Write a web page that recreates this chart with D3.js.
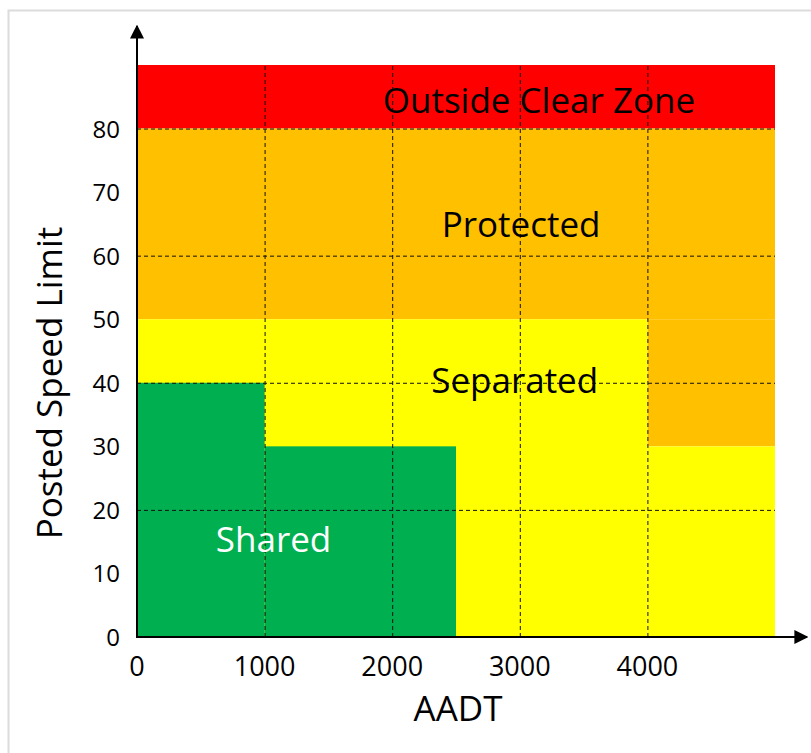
<!DOCTYPE html>
<html>
<head>
<meta charset="utf-8">
<script src="https://cdn.jsdelivr.net/npm/d3@7"></script>
<style>
  body { margin: 0; background: #fff; }
  text { font-family: "Open Sans", "Noto Sans", sans-serif; }
</style>
</head>
<body>
<div id="chart"></div>
<script>
// Zone blocks: AADT range and speed range for each coloured block
const zoneKeys = ["clear", "protected", "protected", "separated", "separated", "shared", "shared"];
const aadtFrom = [0, 0, 4000, 0, 4000, 0, 1000];
const aadtTo = [5000, 5000, 5000, 4000, 5000, 1000, 2500];
const speedFrom = [80, 50, 30, 0, 0, 0, 0];
const speedTo = [90, 80, 50, 50, 30, 40, 30];

// Zone labels and where they sit (data units)
const labelText = ["Outside Clear Zone", "Protected", "Separated", "Shared"];
const labelKey = ["clear", "protected", "separated", "shared"];
const labelAadt = [3150, 3010, 2960, 1070];
const labelSpeed = [82.4, 62.9, 38.4, 13.4];

const xTicks = [0, 1000, 2000, 3000, 4000];
const yTicks = [0, 10, 20, 30, 40, 50, 60, 70, 80];
const xGrid = [1000, 2000, 3000, 4000];
const yGrid = [20, 40, 60, 80];

const zoneColor = {
  clear: "#ff0000",
  protected: "#ffc000",
  separated: "#ffff00",
  shared: "#00b050"
};

const width = 811, height = 753;
const x = d3.scaleLinear().domain([0, 5000]).range([137, 775]);
const y = d3.scaleLinear().domain([0, 90]).range([637, 65]);

const svg = d3.select("#chart").append("svg")
  .attr("width", width)
  .attr("height", height);

// light frame around the picture
svg.append("rect")
  .attr("x", 8.5).attr("y", 10.5)
  .attr("width", width + 10).attr("height", height + 10)
  .attr("fill", "none")
  .attr("stroke", "#dcdcdc")
  .attr("stroke-width", 2);

// coloured zones
const blocks = zoneKeys.map((k, i) => ({ key: k, x0: aadtFrom[i], x1: aadtTo[i], y0: speedFrom[i], y1: speedTo[i] }));
svg.append("g").selectAll("rect")
  .data(blocks)
  .join("rect")
    .attr("x", d => x(d.x0))
    .attr("y", d => y(d.y1))
    .attr("width", d => x(d.x1) - x(d.x0))
    .attr("height", d => y(d.y0) - y(d.y1))
    .attr("fill", d => zoneColor[d.key]);

// dashed grid
const grid = svg.append("g")
  .attr("stroke", "#111")
  .attr("stroke-width", 1)
  .attr("stroke-dasharray", "4,3");
grid.selectAll(".vg")
  .data(xGrid)
  .join("line")
    .attr("x1", d => x(d) + 0.5).attr("x2", d => x(d) + 0.5)
    .attr("y1", y(0)).attr("y2", y(90));
grid.selectAll(".hg")
  .data(yGrid)
  .join("line")
    .attr("x1", x(0)).attr("x2", x(5000))
    .attr("y1", d => y(d) + 0.5).attr("y2", d => y(d) + 0.5);

// zone labels
svg.append("g").selectAll("text")
  .data(labelText)
  .join("text")
    .attr("x", (d, i) => x(labelAadt[i]))
    .attr("y", (d, i) => y(labelSpeed[i]))
    .attr("text-anchor", "middle")
    .attr("font-size", 35)
    .attr("fill", (d, i) => labelKey[i] === "shared" ? "#fff" : "#000")
    .text(d => d);

// axes with arrow heads
const defs = svg.append("defs");
defs.append("marker")
  .attr("id", "arrow")
  .attr("viewBox", "0 0 10 10")
  .attr("refX", 9).attr("refY", 5)
  .attr("markerWidth", 7).attr("markerHeight", 7)
  .attr("markerUnits", "strokeWidth")
  .attr("orient", "auto")
  .append("path")
    .attr("d", "M0,0 L10,5 L0,10 Z")
    .attr("fill", "#000");

svg.append("line")
  .attr("x1", x(0)).attr("x2", x(0))
  .attr("y1", y(0) + 1).attr("y2", 26)
  .attr("stroke", "#000").attr("stroke-width", 2)
  .attr("marker-end", "url(#arrow)");
svg.append("line")
  .attr("x1", x(0) - 1).attr("x2", 807)
  .attr("y1", y(0)).attr("y2", y(0))
  .attr("stroke", "#000").attr("stroke-width", 2)
  .attr("marker-end", "url(#arrow)");

// tick labels
svg.append("g").selectAll("text")
  .data(yTicks)
  .join("text")
    .attr("x", x(0) - 17)
    .attr("y", d => y(d) + 9)
    .attr("text-anchor", "end")
    .attr("font-size", 24)
    .attr("fill", "#000")
    .text(d => d);

svg.append("g").selectAll("text")
  .data(xTicks)
  .join("text")
    .attr("x", d => x(d))
    .attr("y", 676)
    .attr("text-anchor", "middle")
    .attr("font-size", 27)
    .attr("fill", "#000")
    .text(d => d);

// axis titles
svg.append("text")
  .attr("x", 458).attr("y", 721)
  .attr("text-anchor", "middle")
  .attr("font-size", 35)
  .text("AADT");

svg.append("text")
  .attr("transform", "translate(62,383) rotate(-90)")
  .attr("text-anchor", "middle")
  .attr("font-size", 35)
  .text("Posted Speed Limit");
</script>
</body>
</html>
